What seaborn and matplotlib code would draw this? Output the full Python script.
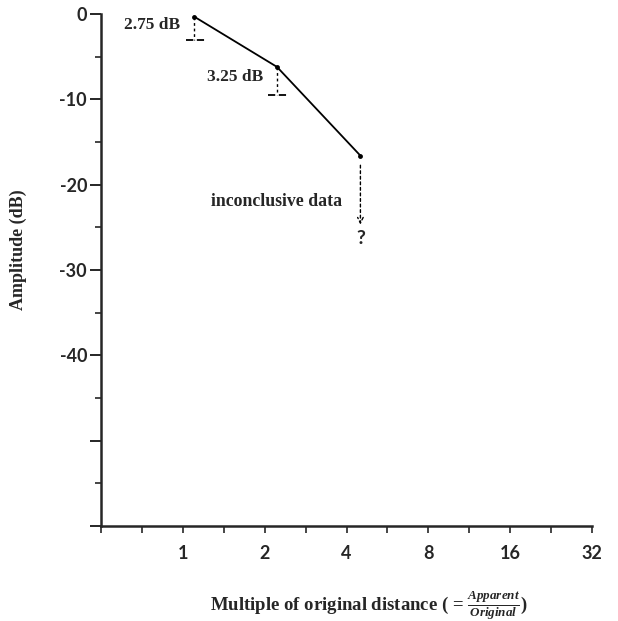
import numpy as np
import pandas as pd
import matplotlib
matplotlib.use("Agg")
import matplotlib.pyplot as plt
import matplotlib.ticker as mticker
import seaborn as sns

# values
distance = [1.1, 2.22, 4.5]          # multiple of original distance
amplitude = [-0.3, -6.2, -16.6]      # dB
drop_values = [2.75, 3.25]
drop_labels = ["2.75 dB", "3.25 dB"]
inconclusive_to = -25.0
x_ticks = [1, 2, 4, 8, 16, 32]
x_tick_labels = ["1", "2", "4", "8", "16", "32"]
y_ticks = [0, -10, -20, -30, -40, -50, -60]
y_tick_labels = ["0", "-10", "-20", "-30", "-40", "", ""]

df = pd.DataFrame({"distance": distance, "amplitude": amplitude})

sns.set_style("ticks")
plt.rcParams["font.family"] = ["Liberation Serif", "DejaVu Serif"]
plt.rcParams["axes.unicode_minus"] = False
plt.rcParams["mathtext.fontset"] = "custom"
plt.rcParams["mathtext.it"] = "Liberation Serif:italic:bold"
plt.rcParams["mathtext.rm"] = "Liberation Serif:bold"

fig = plt.figure(figsize=(6.18, 6.21), dpi=100)
ax = fig.add_axes([101 / 618, 1 - 526 / 621, 491 / 618, 512 / 621])

sns.lineplot(data=df, x="distance", y="amplitude", ax=ax, color="black",
             linewidth=1.3, marker="o", markersize=3.5, markeredgewidth=0)

ax.set_xscale("log", base=2)
ax.set_xlim(0.5, 32)
ax.set_ylim(-60, 0)

# half-octave ticks on x, labels on whole octaves
ax.xaxis.set_major_locator(mticker.FixedLocator(x_ticks))
ax.xaxis.set_major_formatter(mticker.FixedFormatter(x_tick_labels))
ax.xaxis.set_minor_locator(mticker.FixedLocator(
    [0.5 * 2 ** (k / 2) for k in range(0, 13)]))
ax.xaxis.set_minor_formatter(mticker.NullFormatter())
ax.set_yticks(y_ticks)
ax.set_yticklabels(y_tick_labels)
ax.yaxis.set_minor_locator(mticker.MultipleLocator(5))

ax.tick_params(axis="x", which="both", direction="out", length=5, width=1.2,
               pad=9, labelsize=13)
ax.tick_params(axis="y", which="major", direction="out", length=8, width=1.4,
               pad=2, labelsize=13)
ax.tick_params(axis="y", which="minor", direction="out", length=4, width=1.2)
for lab in ax.get_xticklabels() + ax.get_yticklabels():
    lab.set_family(["Lato", "DejaVu Sans"])
    lab.set_fontweight("bold")

sns.despine(ax=ax)
for side in ["left", "bottom"]:
    ax.spines[side].set_linewidth(1.8)

# measured drop below each point
for x, y, d, lab in zip(distance[:2], amplitude[:2], drop_values, drop_labels):
    ax.plot([x, x], [y, y - d], color="black", lw=1, ls=(0, (2, 2)))
    ax.plot([x * 0.93, x * 1.1], [y - d, y - d], color="black", lw=1.3,
            ls=(0, (4, 2)))
    ax.text(x * 0.89, y - d * 0.35, lab, ha="right", va="center",
            fontsize=12.5, fontweight="bold")

# inconclusive last step
ax.annotate("", xy=(distance[2], inconclusive_to),
            xytext=(distance[2], amplitude[2] - 0.8),
            arrowprops=dict(arrowstyle="->", color="black", lw=1,
                            linestyle=(0, (2, 2)), mutation_scale=10))
ax.text(distance[2], inconclusive_to - 1.3, "?", ha="center", va="center",
        fontsize=14, fontweight="bold", family=["Lato", "DejaVu Sans"])
ax.text(2.22, -22.0, "inconclusive data", ha="center", va="center",
        fontsize=12.8, fontweight="bold")

ax.set_xlabel("Multiple of original distance ( = $\\frac{Apparent}{Original}$)",
              fontsize=13.5, fontweight="bold")
ax.xaxis.set_label_coords(0.545, -0.122)
ax.set_ylabel("Amplitude (dB)", fontsize=13, fontweight="bold")
ax.yaxis.set_label_coords(-0.15, 0.54)

fig.savefig("out.png", dpi=100)
